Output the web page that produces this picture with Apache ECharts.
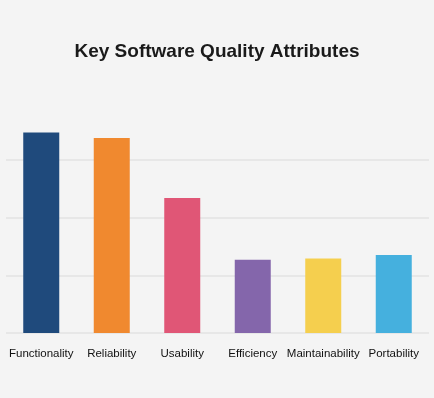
<!DOCTYPE html>
<html>
<head>
<meta charset="utf-8">
<script src="https://cdn.jsdelivr.net/npm/echarts@6/dist/echarts.min.js"></script>
<style>
html, body { margin: 0; padding: 0; background: #f4f4f4; }
#chart { width: 434px; height: 398px; }
</style>
</head>
<body>
<div id="chart"></div>
<script>
const categories = ['Functionality', 'Reliability', 'Usability', 'Efficiency', 'Maintainability', 'Portability'];
const scores = [86.8, 84.4, 58.4, 31.7, 32.2, 33.8];
const barColors = ['#1f4a7c', '#f0892f', '#e05676', '#8466ab', '#f5cf4e', '#45b0de'];

const chart = echarts.init(document.getElementById('chart'));

chart.setOption({
  backgroundColor: '#f4f4f4',
  animation: false,
  title: {
    text: 'Key Software Quality Attributes',
    left: 'center',
    top: 37,
    textStyle: {
      fontFamily: 'Liberation Sans',
      fontSize: 19,
      fontWeight: 'bold',
      color: '#1a1a1a'
    }
  },
  grid: {
    left: 6,
    right: 5,
    top: 102,
    bottom: 65,
    containLabel: false
  },
  xAxis: {
    type: 'category',
    data: categories,
    axisLine: { show: false },
    axisTick: { show: false },
    axisLabel: {
      interval: 0,
      margin: 15,
      fontFamily: 'Liberation Sans',
      fontSize: 11.5,
      color: '#111'
    }
  },
  yAxis: {
    type: 'value',
    min: 0,
    max: 100,
    interval: 25,
    axisLabel: { show: false },
    axisLine: { show: false },
    axisTick: { show: false },
    splitLine: {
      lineStyle: {
        color: ['#e3e3e3', '#e3e3e3', '#e3e3e3', '#e3e3e3', 'rgba(0,0,0,0)'],
        width: 1.5
      }
    }
  },
  series: [{
    type: 'bar',
    barWidth: 36,
    data: scores.map((v, i) => ({ value: v, itemStyle: { color: barColors[i] } }))
  }]
});
</script>
</body>
</html>
